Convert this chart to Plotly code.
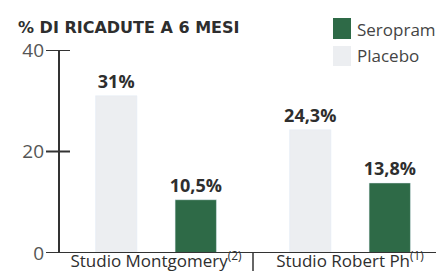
import plotly.graph_objects as go

categories = ["Studio Montgomery<sup>(2)</sup>", "Studio Robert Ph<sup>(1)</sup>"]
placebo = [31.0, 24.3]
seropram = [10.5, 13.8]
placebo_labels = ["31%", "24,3%"]
seropram_labels = ["10,5%", "13,8%"]
y_ticks = [0, 20, 40]

GREEN = "#2e6a47"
GREY = "#eceef1"
TXT = "#2e2e2e"
W, H = 444, 271
L, R, T, B = 51, 5, 42, 26
PW, PH = W - L - R, H - T - B

def px(x):
    return (x - L) / PW

def py(y):
    return (H - B - y) / PH

lab_font = dict(family="Open Sans", size=18, color=TXT, weight="bold")

fig = go.Figure()
fig.add_trace(go.Bar(x=categories, y=placebo, name="Placebo", marker_color=GREY,
                     text=placebo_labels, textposition="outside", cliponaxis=False,
                     textfont=lab_font, showlegend=False))
fig.add_trace(go.Bar(x=categories, y=seropram, name="Seropram", marker_color=GREEN,
                     text=seropram_labels, textposition="outside", cliponaxis=False,
                     textfont=lab_font, showlegend=False))

shapes = []
shapes.append(dict(type="line", xref="paper", yref="y", x0=0, x1=0, y0=0, y1=40,
                   line=dict(color="#333", width=2)))
for v in y_ticks[1:]:
    shapes.append(dict(type="line", xref="paper", yref="y", xsizemode="pixel", xanchor=0,
                       x0=-13, x1=11, y0=v, y1=v, line=dict(color="#333", width=2)))
shapes.append(dict(type="line", xref="paper", yref="y", xsizemode="pixel", xanchor=0,
                   x0=-13, x1=385, y0=0, y1=0, line=dict(color="#333", width=2)))
shapes.append(dict(type="line", xref="paper", yref="paper", ysizemode="pixel", yanchor=0,
                   x0=0.5, x1=0.5, y0=0, y1=-26, line=dict(color="#333", width=1.5)))
shapes.append(dict(type="rect", xref="paper", yref="paper", x0=px(325), x1=px(343),
                   y0=py(31), y1=py(10), fillcolor=GREEN, line=dict(width=0)))
shapes.append(dict(type="rect", xref="paper", yref="paper", x0=px(325), x1=px(343),
                   y0=py(58), y1=py(38), fillcolor=GREY, line=dict(width=0)))

annotations = [
    dict(text="% DI RICADUTE A 6 MESI", xref="paper", yref="paper", x=px(8), y=py(19),
         xanchor="left", yanchor="middle", showarrow=False,
         font=dict(family="DejaVu Sans", size=16, color=TXT, weight="bold")),
    dict(text="Seropram", xref="paper", yref="paper", x=px(347), y=py(21),
         xanchor="left", yanchor="middle", showarrow=False,
         font=dict(family="Open Sans", size=17, color="#444")),
    dict(text="Placebo", xref="paper", yref="paper", x=px(347), y=py(48),
         xanchor="left", yanchor="middle", showarrow=False,
         font=dict(family="Open Sans", size=17, color="#444")),
]

fig.update_layout(
    width=W, height=H, margin=dict(l=L, r=R, t=T, b=B, autoexpand=False),
    paper_bgcolor="white", plot_bgcolor="white",
    barmode="group", bargap=0.18, bargroupgap=0.48,
    uniformtext=dict(minsize=18, mode="show"),
    shapes=shapes, annotations=annotations,
    xaxis=dict(range=[-0.5, 1.5], showgrid=False, showline=False, zeroline=False,
               ticks="", automargin=False, ticklabelstandoff=-4,
               tickfont=dict(family="Open Sans", size=17, color=TXT)),
    yaxis=dict(range=[0, 40], tickvals=y_ticks, showgrid=False, zeroline=False,
               showline=False, ticks="", ticklabelstandoff=14, automargin=False,
               tickfont=dict(family="Open Sans", size=19, color="#555")),
)

fig.write_html("out.html")
